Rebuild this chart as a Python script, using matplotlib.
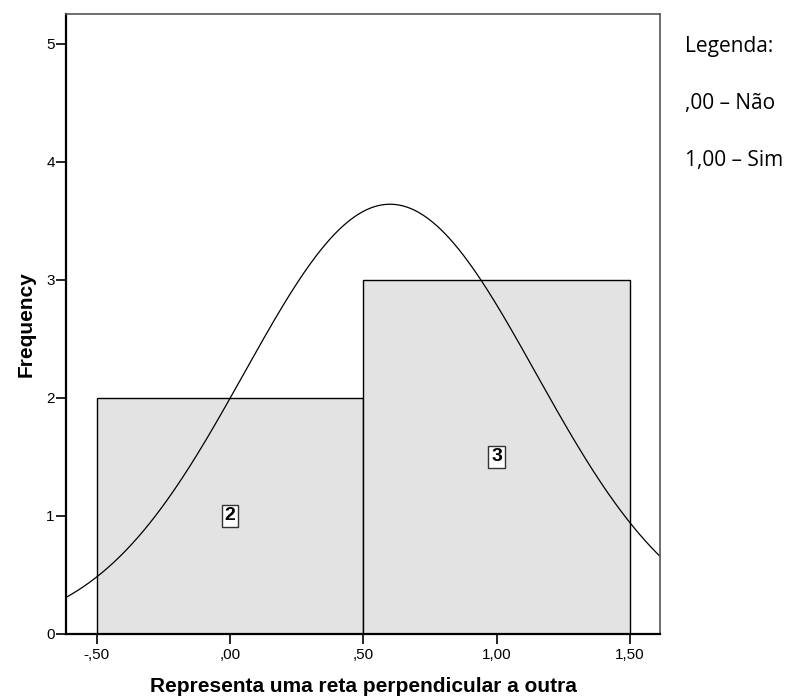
import numpy as np
import matplotlib.pyplot as plt

# data: responses coded 0 (Não) and 1 (Sim)
bin_edges = [-0.5, 0.5, 1.5]
bin_centers = [0.0, 1.0]
counts = [2, 3]
x_ticks = [-0.5, 0.0, 0.5, 1.0, 1.5]
x_ticklabels = ['-,50', ',00', ',50', '1,00', '1,50']
y_ticks = [0, 1, 2, 3, 4, 5]
legend_lines = ['Legenda:', ',00 \u2013 Não', '1,00 \u2013 Sim']

values = np.repeat(bin_centers, counts)
mean = values.mean()
std = values.std(ddof=1)
n = len(values)
width = bin_edges[1] - bin_edges[0]

plt.rcParams['font.family'] = ['Liberation Sans', 'DejaVu Sans']

fig = plt.figure(figsize=(7.92, 6.99), dpi=100)
ax = fig.add_axes([0.0833, 0.093, 0.75, 0.887])

ax.bar(bin_centers, counts, width=width, color='#e3e3e3', edgecolor='black', linewidth=1.0)

xs = np.linspace(-0.616, 1.613, 400)
pdf = n * width * np.exp(-0.5 * ((xs - mean) / std) ** 2) / (std * np.sqrt(2 * np.pi))
ax.plot(xs, pdf, color='black', linewidth=0.9)

for c, v in zip(bin_centers, counts):
    ax.text(c, v / 2, str(v), ha='center', va='center', fontsize=14, fontweight='bold',
            bbox=dict(boxstyle='square,pad=0.15', facecolor='white', edgecolor='#333333', linewidth=1))

ax.set_xlim(-0.616, 1.613)
ax.set_ylim(0, 5.254)
ax.set_xticks(x_ticks)
ax.set_xticklabels(x_ticklabels)
ax.set_yticks(y_ticks)
ax.tick_params(direction='out', length=7, width=1.2, labelsize=11, colors='black')
ax.tick_params(axis='y', pad=1)
ax.tick_params(axis='x', pad=3)
for s in ['left', 'bottom']:
    ax.spines[s].set_linewidth(1.6)
for s in ['top', 'right']:
    ax.spines[s].set_color('#555555')
    ax.spines[s].set_linewidth(1.2)

ax.set_xlabel('Representa uma reta perpendicular a outra', fontsize=15, fontweight='bold', labelpad=11)
ax.set_ylabel('Frequency', fontsize=15, fontweight='bold', labelpad=8)

for i, line in enumerate(legend_lines):
    fig.text(0.865, 0.934 - i * 0.0815, line, fontsize=15, family=['Open Sans', 'DejaVu Sans'],
             ha='left', va='center')

fig.savefig('out.png', dpi=100)
